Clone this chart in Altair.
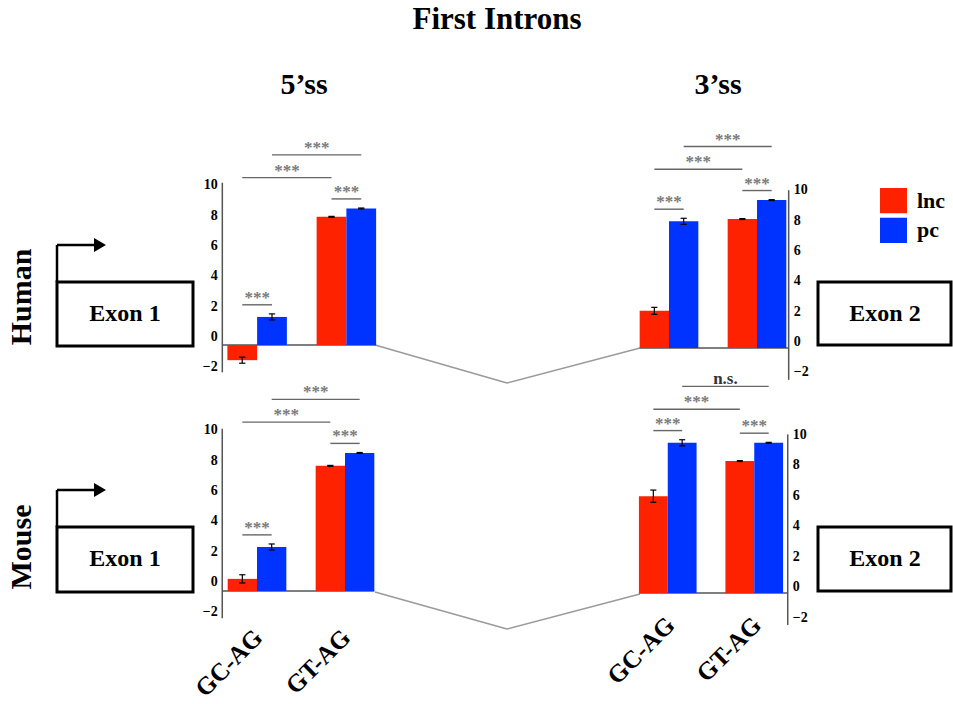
import altair as alt
import pandas as pd

# ---- data -------------------------------------------------------------
categories = ["GC-AG", "GT-AG"]
series = ["lnc", "pc"]
series_colors = ["#FF2200", "#0033FF"]
y_ticks = [-2, 0, 2, 4, 6, 8, 10]

# splice-site scores, ordered [GC-AG, GT-AG]
human_5ss_lnc = [-1.0, 8.45]
human_5ss_pc = [1.85, 9.0]
human_5ss_lnc_err = [0.2, 0.03]
human_5ss_pc_err = [0.2, 0.03]

human_3ss_lnc = [2.45, 8.5]
human_3ss_pc = [8.35, 9.75]
human_3ss_lnc_err = [0.23, 0.03]
human_3ss_pc_err = [0.2, 0.03]

mouse_5ss_lnc = [0.8, 8.25]
mouse_5ss_pc = [2.9, 9.1]
mouse_5ss_lnc_err = [0.27, 0.03]
mouse_5ss_pc_err = [0.2, 0.03]

mouse_3ss_lnc = [6.35, 8.65]
mouse_3ss_pc = [9.85, 9.85]
mouse_3ss_lnc_err = [0.4, 0.03]
mouse_3ss_pc_err = [0.2, 0.03]

# significance: [GC lnc-pc, GT lnc-pc, lnc GC-GT, pc GC-GT]
human_5ss_sig = ["***", "***", "***", "***"]
human_3ss_sig = ["***", "***", "***", "***"]
mouse_5ss_sig = ["***", "***", "***", "***"]
mouse_3ss_sig = ["***", "***", "***", "n.s."]

# ---- styling ------------------------------------------------------------
FONT = "Liberation Serif"
BAR_W = 1 / 3        # bar width in group units
CAP = 0.035          # half width of error-bar caps
GAP_INNER = 0.6
GAP_PAIR = 1.4
GAP_PAIR2 = 1.5

layouts = {
    "H5": dict(xr=[212.5, 391.0], base=345, ppu=15.17, side="left", lab_dy=-8, axis_x=0.11, xlab=False),
    "H3": dict(xr=[625.0, 801.0], base=348, ppu=15.17, side="right", lab_dy=-6, axis_x=1.86, xlab=False),
    "M5": dict(xr=[213.0, 389.0], base=591, ppu=15.17, side="left", lab_dy=-9, axis_x=0.105, xlab=True),
    "M3": dict(xr=[624.5, 797.5], base=593, ppu=15.25, side="right", lab_dy=-6, axis_x=1.887, xlab=True),
}


def panel(lnc, pc, lnc_err, pc_err, sig, lay):
    rows = []
    for j, (s, vals, errs) in enumerate([("lnc", lnc, lnc_err), ("pc", pc, pc_err)]):
        for i, c in enumerate(categories):
            center = i + 0.5 + (j - 0.5) * BAR_W
            rows.append(dict(category=c, series=s, value=vals[i], center=center,
                             left=center - BAR_W / 2, right=center + BAR_W / 2,
                             lo=vals[i] - errs[i], hi=vals[i] + errs[i],
                             cl=center - CAP, cr=center + CAP, zero=0.0))
    bars = pd.DataFrame(rows)

    xs = alt.Scale(domain=[0, 2], range=lay["xr"], nice=False, zero=False)
    b, p = lay["base"], lay["ppu"]
    ys = alt.Scale(domain=[-2, 10], range=[b + 2 * p, b - 10 * p], nice=False, zero=False)

    def X(f):
        return alt.X(f, type="quantitative", scale=xs, axis=None)

    def Y(f):
        return alt.Y(f, type="quantitative", scale=ys, axis=None)

    bar_layer = alt.Chart(bars).mark_bar().encode(
        x=X("left"), x2=alt.X2("right"), y=Y("value"), y2=alt.Y2("zero"),
        color=alt.Color("series:N", scale=alt.Scale(domain=series, range=series_colors), legend=None),
    )
    err_v = alt.Chart(bars).mark_rule(color="black", strokeWidth=1.2).encode(
        x=X("center"), y=Y("lo"), y2=alt.Y2("hi"))
    cap_lo = alt.Chart(bars).mark_rule(color="black", strokeWidth=1.2).encode(
        x=X("cl"), x2=alt.X2("cr"), y=Y("lo"))
    cap_hi = alt.Chart(bars).mark_rule(color="black", strokeWidth=1.2).encode(
        x=X("cl"), x2=alt.X2("cr"), y=Y("hi"))

    # significance brackets
    def ctr(c, s):
        return float(bars[(bars.category == c) & (bars.series == s)].center.iloc[0])

    top = [max(float(bars[bars.category == c].hi.max()), 0.0) for c in categories]
    inner = [t + GAP_INNER for t in top]
    lvl_lnc = max(inner) + GAP_PAIR
    lvl_pc = lvl_lnc + GAP_PAIR2
    br = pd.DataFrame([
        dict(a=ctr("GC-AG", "lnc"), b=ctr("GC-AG", "pc"), level=inner[0], label=sig[0]),
        dict(a=ctr("GT-AG", "lnc"), b=ctr("GT-AG", "pc"), level=inner[1], label=sig[1]),
        dict(a=ctr("GC-AG", "lnc"), b=ctr("GT-AG", "lnc"), level=lvl_lnc, label=sig[2]),
        dict(a=ctr("GC-AG", "pc"), b=ctr("GT-AG", "pc"), level=lvl_pc, label=sig[3]),
    ])
    br["mid"] = (br.a + br.b) / 2
    br_line = alt.Chart(br).mark_rule(color="#666666", strokeWidth=1.4).encode(
        x=X("a"), x2=alt.X2("b"), y=Y("level"))
    br_text = alt.Chart(br).mark_text(font=FONT, fontWeight="bold", fontSize=17,
                                      baseline="alphabetic", dy=-2).encode(
        x=X("mid"), y=Y("level"), text="label:N",
        color=alt.condition(alt.datum.label == "n.s.", alt.value("#333333"), alt.value("#7a7a7a")))

    # hand-drawn axis: vertical line, zero line, tick labels
    left = lay["side"] == "left"
    ax = pd.DataFrame([dict(x=lay["axis_x"], lo=-1.8 if left else -2.1, hi=10.7 if left else 10.4,
                            b0=lay["axis_x"] if left else 0.5 - BAR_W,
                            b1=1.5 + BAR_W if left else lay["axis_x"], zero=0.0)])
    ax_line = alt.Chart(ax).mark_rule(color="#555555", strokeWidth=1.5).encode(
        x=X("x"), y=Y("lo"), y2=alt.Y2("hi"))
    zero_line = alt.Chart(ax).mark_rule(color="#555555", strokeWidth=1.5).encode(
        x=X("b0"), x2=alt.X2("b1"), y=Y("zero"))
    ticks = pd.DataFrame(dict(t=y_ticks, x=[lay["axis_x"]] * len(y_ticks)))
    tick_text = alt.Chart(ticks).mark_text(
        font=FONT, fontWeight="bold", fontSize=14, baseline="middle",
        align="right" if left else "left", dx=-4.5 if left else 5, dy=lay["lab_dy"], color="black",
    ).encode(x=X("x"), y=Y("t"), text=alt.Text("t:Q", format="d"))

    layers = [zero_line, bar_layer, err_v, cap_lo, cap_hi, br_line, br_text, ax_line, tick_text]

    if lay["xlab"]:
        cats = pd.DataFrame(dict(category=categories, pos=[i + 0.5 for i in range(len(categories))]))
        xl = alt.Chart(cats).mark_text(
            font=FONT, fontWeight="bold", fontSize=25, angle=315, align="right",
            baseline="middle", dx=2 if left else 4, color="black",
        ).encode(x=X("pos"), y=alt.value(635 if left else 624), text="category:N")
        layers.append(xl)

    return alt.layer(*layers)


p_h5 = panel(human_5ss_lnc, human_5ss_pc, human_5ss_lnc_err, human_5ss_pc_err, human_5ss_sig, layouts["H5"])
p_h3 = panel(human_3ss_lnc, human_3ss_pc, human_3ss_lnc_err, human_3ss_pc_err, human_3ss_sig, layouts["H3"])
p_m5 = panel(mouse_5ss_lnc, mouse_5ss_pc, mouse_5ss_lnc_err, mouse_5ss_pc_err, mouse_5ss_sig, layouts["M5"])
p_m3 = panel(mouse_3ss_lnc, mouse_3ss_pc, mouse_3ss_lnc_err, mouse_3ss_pc_err, mouse_3ss_sig, layouts["M3"])

# ---- legend ---------------------------------------------------------------
leg_df = pd.DataFrame(dict(series=series))
leg_y = alt.Scale(domain=series, range=[188, 243], paddingInner=0.15, paddingOuter=0)
leg_sq = alt.Chart(leg_df).mark_rect().encode(
    x=alt.value(880), x2=alt.value(907),
    y=alt.Y("series:N", scale=leg_y, axis=None),
    color=alt.Color("series:N", scale=alt.Scale(domain=series, range=series_colors), legend=None),
)
leg_tx = alt.Chart(leg_df).mark_text(font=FONT, fontWeight="bold", fontSize=22, align="left",
                                     baseline="middle", color="black").encode(
    x=alt.value(917), y=alt.Y("series:N", scale=leg_y, axis=None), text="series:N")
legend = alt.layer(leg_sq, leg_tx)

# ---- gene diagram: exons, promoter arrows, introns, headings -----------------
PX = dict(scale=None, axis=None)
boxes = pd.DataFrame([
    dict(x=57, x2=193, y=282, y2=346),
    dict(x=57, x2=193, y=527, y2=592),
    dict(x=818, x2=951, y=282, y2=345),
    dict(x=818, x2=951, y=527, y2=591),
])
box_layer = alt.Chart(boxes).mark_rect(fill="white", stroke="black", strokeWidth=3).encode(
    x=alt.X("x:Q", **PX), x2="x2:Q", y=alt.Y("y:Q", **PX), y2="y2:Q")

arrows = pd.DataFrame([
    dict(x=57, x2=57, y=282, y2=245), dict(x=57, x2=95, y=245, y2=245),
    dict(x=57, x2=57, y=527, y2=490), dict(x=57, x2=95, y=490, y2=490),
])
arrow_layer = alt.Chart(arrows).mark_rule(color="black", strokeWidth=2.5).encode(
    x=alt.X("x:Q", **PX), x2="x2:Q", y=alt.Y("y:Q", **PX), y2="y2:Q")
heads = pd.DataFrame([dict(x=100, y=245), dict(x=100, y=490)])
head_layer = alt.Chart(heads).mark_point(shape="triangle-right", filled=True, color="black",
                                         size=190, opacity=1).encode(
    x=alt.X("x:Q", **PX), y=alt.Y("y:Q", **PX))

introns = pd.DataFrame([
    dict(x=375, x2=507, y=345, y2=383), dict(x=507, x2=640, y=383, y2=348),
    dict(x=375, x2=507, y=592, y2=629), dict(x=507, x2=640, y=629, y2=594),
])
intron_layer = alt.Chart(introns).mark_rule(color="#9a9a9a", strokeWidth=1.5).encode(
    x=alt.X("x:Q", **PX), x2="x2:Q", y=alt.Y("y:Q", **PX), y2="y2:Q")

labels = pd.DataFrame([
    dict(x=497, y=20, text="First Introns", size=31, angle=0),
    dict(x=304, y=85, text="5’ss", size=30, angle=0),
    dict(x=718, y=85, text="3’ss", size=30, angle=0),
    dict(x=22, y=297, text="Human", size=30, angle=270),
    dict(x=22, y=547, text="Mouse", size=30, angle=270),
    dict(x=125, y=314, text="Exon 1", size=24, angle=0),
    dict(x=125, y=559, text="Exon 1", size=24, angle=0),
    dict(x=885, y=314, text="Exon 2", size=24, angle=0),
    dict(x=885, y=559, text="Exon 2", size=24, angle=0),
])
label_layer = alt.Chart(labels).mark_text(font=FONT, fontWeight="bold", baseline="middle",
                                          align="center", color="black").encode(
    x=alt.X("x:Q", **PX), y=alt.Y("y:Q", **PX), text="text:N",
    size=alt.Size("size:Q", scale=None, legend=None),
    angle=alt.Angle("angle:Q", scale=None, legend=None))

diagram = alt.layer(intron_layer, box_layer, arrow_layer, head_layer, label_layer)

chart = (
    alt.layer(diagram, p_h5, p_h3, p_m5, p_m3, legend)
    .resolve_scale(x="independent", y="independent")
    .properties(width=953, height=704, autosize=alt.AutoSizeParams(type="none"), padding=0,
                background="white")
    .configure_view(stroke=None)
)

chart.save("out.html", embed_options={"renderer": "svg", "actions": False})
